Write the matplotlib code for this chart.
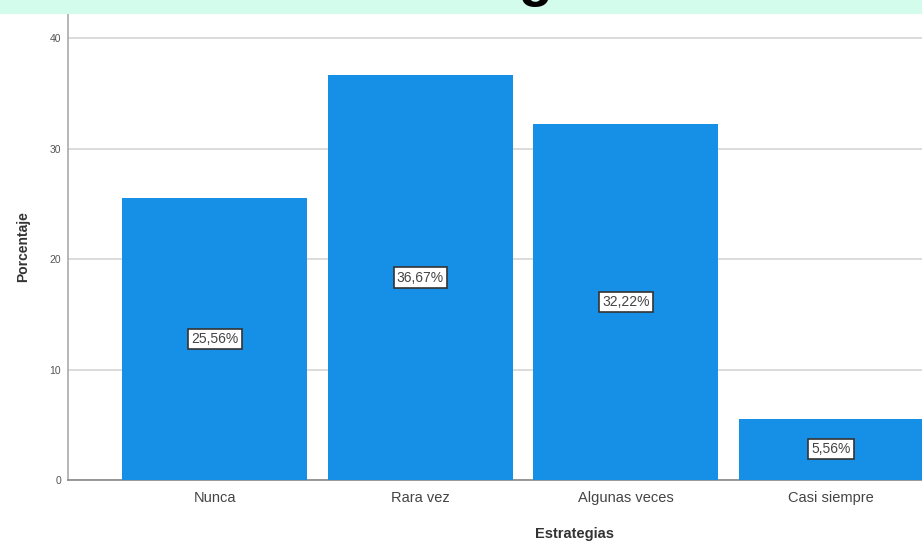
import numpy as np
import matplotlib.pyplot as plt
from matplotlib.patches import Rectangle

plt.rcParams['font.family'] = ['Liberation Sans', 'DejaVu Sans']

# data
categorias = ["Nunca", "Rara vez", "Algunas veces", "Casi siempre"]
porcentajes = [25.56, 36.67, 32.22, 5.56]
etiquetas = ["25,56%", "36,67%", "32,22%", "5,56%"]

fig = plt.figure(figsize=(9.22, 5.49), dpi=100)
fig.patch.set_facecolor("white")

# mint band on top (screenshot header)
fig.patches.append(Rectangle((0, 1 - 14/549), 1, 14/549, transform=fig.transFigure,
                             facecolor="#d4fcec", edgecolor="none", zorder=0))
# title of the original page, cut off: only a descender peeks in
fig.text(0.5 + 20/922, 1 + 5/549, "Estrategias", ha="center", va="baseline",
         fontsize=40, fontweight="bold", color="black")

ax = fig.add_axes([68/922, 69/549, 910/922, 466/549])
x = np.arange(len(categorias))
ax.bar(x, porcentajes, width=0.9, color="#168fe6", zorder=3)

for xi, v, t in zip(x, porcentajes, etiquetas):
    ax.text(xi, v/2, t, ha="center", va="center", fontsize=10, color="#444444", zorder=4,
            bbox=dict(boxstyle="square,pad=0.22", facecolor="white", edgecolor="#333333", linewidth=1.2))

ax.set_xlim(-0.715, 3.715)
ax.set_ylim(0, 42.2)
ax.set_yticks([0, 10, 20, 30, 40])
ax.set_xticks(x)
ax.set_xticklabels(categorias, fontsize=10.5, color="#444444")
ax.tick_params(axis="y", length=0, labelsize=7.5, labelcolor="#555555", pad=5)
ax.tick_params(axis="x", length=0, pad=8)
ax.yaxis.grid(True, color="#d5d5d5", linewidth=1.2, zorder=0)
ax.set_axisbelow(True)

for s in ["top", "right"]:
    ax.spines[s].set_visible(False)
ax.spines["left"].set_color("#aaaaaa")
ax.spines["bottom"].set_color("#888888")
ax.spines["left"].set_linewidth(1.2)
ax.spines["bottom"].set_linewidth(1.2)

ax.set_ylabel("Porcentaje", fontsize=10, fontweight="bold", color="#333333", labelpad=14)
ax.set_xlabel("Estrategias", fontsize=10.5, fontweight="bold", color="#333333")
ax.xaxis.set_label_coords((575 - 68)/910, -47/466)

fig.savefig("out.png", dpi=100)
